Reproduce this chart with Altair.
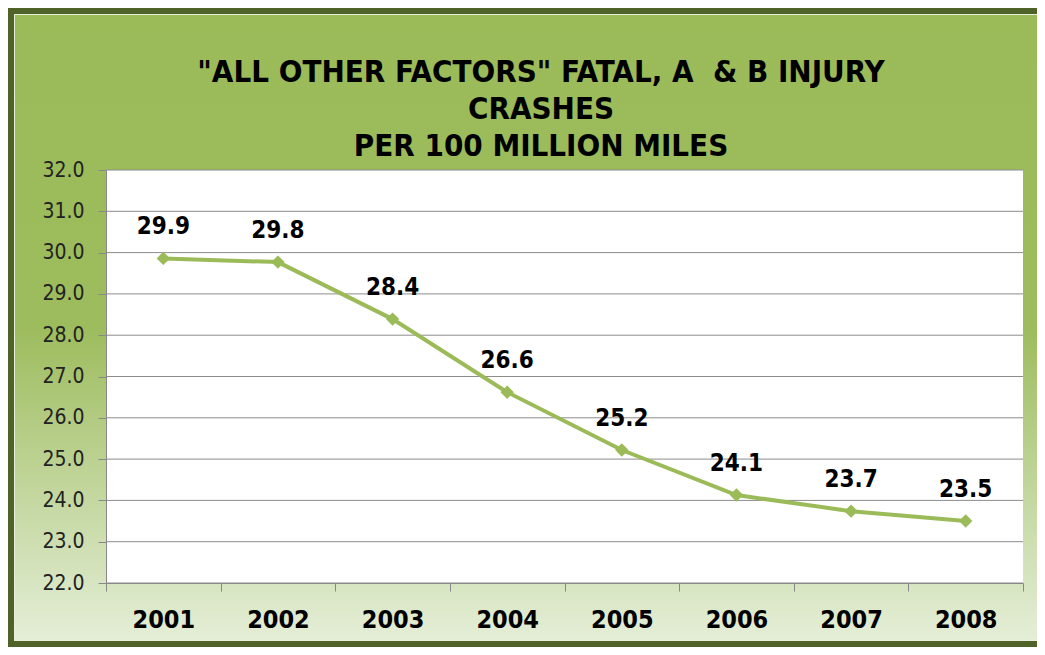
import altair as alt
import pandas as pd

years = ["2001", "2002", "2003", "2004", "2005", "2006", "2007", "2008"]
values = [29.86, 29.77, 28.39, 26.62, 25.22, 24.13, 23.74, 23.50]
labels = ["29.9", "29.8", "28.4", "26.6", "25.2", "24.1", "23.7", "23.5"]
y_ticks = [22, 23, 24, 25, 26, 27, 28, 29, 30, 31, 32]
title_lines = ['"ALL OTHER FACTORS" FATAL, A \u00a0& B INJURY', "CRASHES", "PER 100 MILLION MILES"]

df = pd.DataFrame({"year": years, "value": values, "label": labels})
grid_df = pd.DataFrame({"v": y_ticks})

FONT = "Tahoma, 'DejaVu Sans Condensed', 'DejaVu Sans', sans-serif"
GREEN = "#9BBB59"
W, H = 917, 413
PL, PT, PR, PB = 98, 162, 14, 64

xenc = alt.X(
    "year:O",
    bandPosition=0.5,
    scale=alt.Scale(type="band", paddingInner=0, paddingOuter=0),
    axis=alt.Axis(
        title=None, labelAngle=0, tickBand="extent", grid=False,
        labelFont=FONT, labelFontSize=25, labelFontWeight="bold", labelColor="#000000",
        labelPadding=16, tickSize=8, tickColor="#888888", domainColor="#888888",
        zindex=1,
    ),
)
yscale = alt.Scale(domain=[22, 32], nice=False, zero=False)
yenc = alt.Y(
    "value:Q",
    scale=yscale,
    axis=alt.Axis(
        title=None, values=y_ticks, format=".1f", grid=False,
        labelFont=FONT, labelFontSize=21, labelColor="#222222",
        labelPadding=14, tickSize=8, tickColor="#888888", domainColor="#888888",
        zindex=1,
    ),
)

bg = alt.Chart(alt.Data(values=[{}])).mark_rect(
    fill=alt.Gradient(
        gradient="linear",
        stops=[
            alt.GradientStop(color="#9BBB59", offset=0),
            alt.GradientStop(color="#9DBC5D", offset=0.5),
            alt.GradientStop(color="#E6EFDA", offset=1),
        ],
        x1=0, x2=0, y1=0, y2=1,
    ),
    stroke="#4F6228",
    strokeWidth=12,
).encode(x=alt.value(-PL), x2=alt.value(W + PR + 12), y=alt.value(-PT), y2=alt.value(H + PB))

inner = alt.Chart(alt.Data(values=[{}])).mark_rect(
    fill=None, stroke="#E8EEDC", strokeWidth=1
).encode(x=alt.value(-PL + 6.5), x2=alt.value(W + PR + 12), y=alt.value(-PT + 6.5), y2=alt.value(H + PB - 6.5))

plotbg = alt.Chart(alt.Data(values=[{}])).mark_rect(fill="white").encode(
    x=alt.value(0), x2=alt.value(W), y=alt.value(0), y2=alt.value(H)
)

title = alt.Chart(alt.Data(values=[{}])).mark_text(
    text=title_lines, font=FONT, fontSize=31, fontWeight="bold", color="#000000",
    align="center", baseline="alphabetic", lineHeight=37,
).encode(x=alt.value(435), y=alt.value(-88))

grid = alt.Chart(grid_df).mark_rule(color="#8C8C8C", strokeWidth=1).encode(
    y=alt.Y("v:Q", scale=yscale), x=alt.value(0), x2=alt.value(W)
)

base = alt.Chart(df)
line = base.mark_line(color=GREEN, strokeWidth=4).encode(x=xenc, y=yenc)
pts = base.mark_point(shape="diamond", filled=True, size=180, color=GREEN, opacity=1).encode(x=xenc, y=yenc)
txt = base.mark_text(
    font=FONT, fontSize=24, fontWeight="bold", color="#000000", dy=-24, baseline="alphabetic"
).encode(x=xenc, y=yenc, text="label:N")

chart = alt.layer(bg, inner, plotbg, title, grid, line, pts, txt).properties(
    width=W, height=H,
    padding={"left": PL, "top": PT, "right": PR, "bottom": PB},
    autosize=alt.AutoSizeParams(type="none"),
).configure_view(stroke=None).configure(background="white")

chart.save("out.html", embed_options={"renderer": "svg", "actions": False})
